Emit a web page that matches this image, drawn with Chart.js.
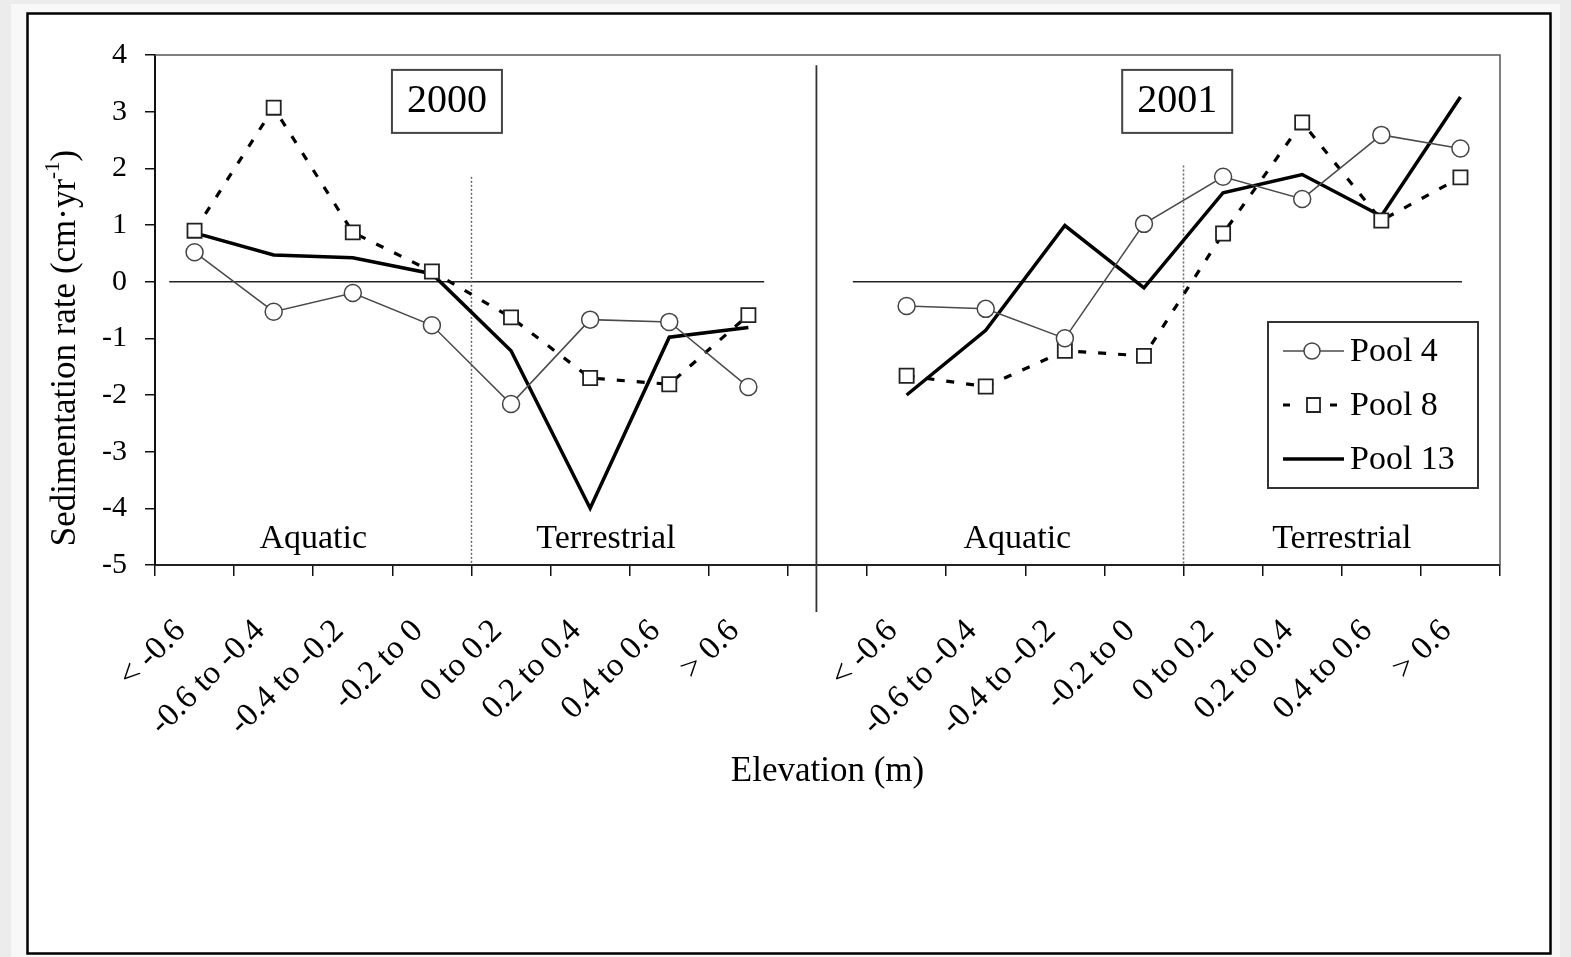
<!DOCTYPE html>
<html>
<head>
<meta charset="utf-8">
<script src="https://cdn.jsdelivr.net/npm/chart.js@4.4.1/dist/chart.umd.min.js"></script>
<style>
  html, body { margin: 0; padding: 0; background: #ececec; }
</style>
</head>
<body>
<canvas id="myChart" width="1571" height="957"></canvas>
<script>
// categories and values
const elevationClasses = ["< -0.6", "-0.6 to -0.4", "-0.4 to -0.2", "-0.2 to 0", "0 to 0.2", "0.2 to 0.4", "0.4 to 0.6", "> 0.6"];
const years = ["2000", "2001"];
const zoneNames = ["Aquatic", "Terrestrial"];
const yTicks = [-5, -4, -3, -2, -1, 0, 1, 2, 3, 4];

const pool4_2000 = [0.52, -0.53, -0.2, -0.77, -2.16, -0.67, -0.71, -1.86];
const pool4_2001 = [-0.43, -0.48, -1.0, 1.02, 1.85, 1.46, 2.59, 2.35];
const pool8_2000 = [0.9, 3.07, 0.87, 0.18, -0.63, -1.7, -1.81, -0.59];
const pool8_2001 = [-1.66, -1.85, -1.22, -1.31, 0.85, 2.81, 1.08, 1.84];
const pool13_2000 = [0.86, 0.47, 0.42, 0.14, -1.22, -4.0, -0.98, -0.81];
const pool13_2001 = [-2.0, -0.86, 0.99, -0.11, 1.57, 1.89, 1.16, 3.26];

const serif = "'Liberation Serif', 'Times New Roman', serif";

// both years share one category axis, with an empty slot between them
const xLabels = [...elevationClasses, "", ...elevationClasses];
function joinYears(a, b) {
  return [...a, null, ...b];
}

const framePlugin = {
  id: 'frame',
  beforeDraw(chart) {
    const ctx = chart.ctx;
    ctx.save();
    ctx.fillStyle = '#ececec';
    ctx.fillRect(0, 0, chart.width, chart.height);
    ctx.fillStyle = '#f8f8f8';
    ctx.fillRect(11, 4, chart.width - 22, chart.height - 4);
    ctx.fillStyle = '#ffffff';
    ctx.fillRect(27, 13, 1524, 940);
    ctx.strokeStyle = '#000';
    ctx.lineWidth = 2.5;
    ctx.strokeRect(27.5, 13.5, 1523, 940);
    ctx.restore();
  },
  beforeDatasetsDraw(chart) {
    const ctx = chart.ctx;
    const x = chart.scales.x;
    const y = chart.scales.y;
    const area = chart.chartArea;
    ctx.save();
    // top and right frame of the plot
    ctx.strokeStyle = '#555';
    ctx.lineWidth = 1.5;
    ctx.beginPath();
    ctx.moveTo(area.left, area.top);
    ctx.lineTo(area.right, area.top);
    ctx.lineTo(area.right, area.bottom);
    ctx.stroke();

    // zero lines for each year
    ctx.strokeStyle = '#222';
    ctx.lineWidth = 1.5;
    [[-0.32, 7.2], [8.32, 16.02]].forEach(([a, b]) => {
      ctx.beginPath();
      ctx.moveTo(x.getPixelForValue(a), y.getPixelForValue(0));
      ctx.lineTo(x.getPixelForValue(b), y.getPixelForValue(0));
      ctx.stroke();
    });

    // year divider
    ctx.strokeStyle = '#333';
    ctx.lineWidth = 1.8;
    ctx.beginPath();
    ctx.moveTo(x.getPixelForValue(7.86), y.getPixelForValue(3.82));
    ctx.lineTo(x.getPixelForValue(7.86), y.getPixelForValue(-5.83));
    ctx.stroke();

    // aquatic / terrestrial split
    ctx.strokeStyle = '#666';
    ctx.lineWidth = 1.5;
    ctx.setLineDash([2, 2]);
    [[3.5, 1.85], [12.5, 2.05]].forEach(([i, top]) => {
      ctx.beginPath();
      ctx.moveTo(x.getPixelForValue(i), y.getPixelForValue(top));
      ctx.lineTo(x.getPixelForValue(i), y.getPixelForValue(-5));
      ctx.stroke();
    });
    ctx.restore();
  },
  afterDatasetsDraw(chart) {
    const ctx = chart.ctx;
    const x = chart.scales.x;
    const y = chart.scales.y;
    const area = chart.chartArea;
    ctx.save();
    ctx.fillStyle = '#000';
    ctx.textAlign = 'center';
    ctx.textBaseline = 'middle';

    // year boxes
    [[3.19, years[0]], [12.42, years[1]]].forEach(([i, label]) => {
      const cx = x.getPixelForValue(i);
      const cy = y.getPixelForValue(3.19);
      ctx.fillStyle = '#fff';
      ctx.fillRect(cx - 55, cy - 31, 110, 63);
      ctx.strokeStyle = '#444';
      ctx.lineWidth = 2;
      ctx.strokeRect(cx - 55, cy - 31, 110, 63);
      ctx.fillStyle = '#000';
      ctx.font = `40px ${serif}`;
      ctx.fillText(label, cx, cy + 1);
    });

    // zone labels
    ctx.font = `34px ${serif}`;
    [[1.5, 0], [5.2, 1], [10.4, 0], [14.5, 1]].forEach(([i, z]) => {
      ctx.fillText(zoneNames[z], x.getPixelForValue(i), y.getPixelForValue(-4.55));
    });

    // legend
    const lx = area.right - 232;
    const ly = area.top + 267;
    ctx.strokeStyle = '#333';
    ctx.lineWidth = 2;
    ctx.strokeRect(lx, ly, 210, 166);
    ctx.textAlign = 'left';
    ctx.font = `34px ${serif}`;
    chart.data.datasets.forEach((ds, k) => {
      const rowY = ly + 29 + k * 54;
      ctx.save();
      ctx.strokeStyle = ds.borderColor;
      ctx.lineWidth = ds.borderWidth;
      ctx.beginPath();
      if (ds.borderDash) {
        ctx.moveTo(lx + 15, rowY);
        ctx.lineTo(lx + 22, rowY);
        ctx.moveTo(lx + 62, rowY);
        ctx.lineTo(lx + 69, rowY);
      } else {
        ctx.moveTo(lx + 15, rowY);
        ctx.lineTo(lx + 76, rowY);
      }
      ctx.stroke();
      ctx.restore();
      if (ds.pointRadius > 0) {
        ctx.save();
        ctx.fillStyle = '#fff';
        ctx.strokeStyle = ds.pointBorderColor;
        ctx.lineWidth = ds.pointBorderWidth;
        ctx.beginPath();
        if (ds.pointStyle === 'circle') {
          ctx.arc(lx + 44, rowY, 8, 0, Math.PI * 2);
        } else {
          ctx.rect(lx + 39, rowY - 7, 13, 14);
        }
        ctx.fill();
        ctx.stroke();
        ctx.restore();
      }
      ctx.fillStyle = '#000';
      ctx.fillText(ds.label, lx + 82, rowY + 1);
    });

    // axis titles
    ctx.textAlign = 'center';
    ctx.font = `35px ${serif}`;
    ctx.fillText('Elevation (m)', (area.left + area.right) / 2, area.bottom + 207);

    ctx.translate(66, area.top + 293);
    ctx.rotate(-Math.PI / 2);
    const main = 'Sedimentation rate (cm\u00b7yr';
    ctx.font = `35px ${serif}`;
    const w1 = ctx.measureText(main).width;
    const w3 = ctx.measureText(')').width;
    ctx.font = `21px ${serif}`;
    const w2 = ctx.measureText('-1').width;
    let tx = -(w1 + w2 + w3) / 2;
    ctx.textAlign = 'left';
    ctx.font = `35px ${serif}`;
    ctx.fillText(main, tx, 0);
    tx += w1;
    ctx.font = `21px ${serif}`;
    ctx.fillText('-1', tx, -13);
    tx += w2;
    ctx.font = `35px ${serif}`;
    ctx.fillText(')', tx, 0);
    ctx.restore();
  }
};

const ctx = document.getElementById("myChart").getContext("2d");
new Chart(ctx, {
  type: 'line',
  data: {
    labels: xLabels,
    datasets: [
      {
        label: 'Pool 4',
        data: joinYears(pool4_2000, pool4_2001),
        borderColor: '#4a4a4a',
        borderWidth: 1.5,
        pointStyle: 'circle',
        pointRadius: 8.5,
        pointBorderWidth: 1.5,
        pointBorderColor: '#444',
        pointBackgroundColor: '#fff',
        tension: 0
      },
      {
        label: 'Pool 8',
        data: joinYears(pool8_2000, pool8_2001),
        borderColor: '#000',
        borderWidth: 3.2,
        borderDash: [8, 12],
        pointStyle: 'rect',
        pointRadius: 10,
        pointBorderWidth: 1.8,
        pointBorderColor: '#222',
        pointBackgroundColor: '#fff',
        tension: 0
      },
      {
        label: 'Pool 13',
        data: joinYears(pool13_2000, pool13_2001),
        borderColor: '#000',
        borderWidth: 3.5,
        pointRadius: 0,
        tension: 0
      }
    ]
  },
  options: {
    responsive: false,
    animation: false,
    devicePixelRatio: 1,
    spanGaps: false,
    layout: { padding: { left: 30, top: 55, right: 71, bottom: 0 } },
    plugins: {
      legend: { display: false },
      tooltip: { enabled: false }
    },
    scales: {
      x: {
        type: 'category',
        offset: true,
        grid: {
          display: true,
          offset: true,
          drawOnChartArea: false,
          drawTicks: true,
          tickLength: 11,
          color: '#111',
          lineWidth: 1.5
        },
        border: { display: true, color: '#222', width: 2 },
        ticks: {
          autoSkip: false,
          maxRotation: 45,
          minRotation: 45,
          padding: 36,
          labelOffset: -14,
          color: '#000',
          font: { family: serif, size: 33 }
        },
        afterFit(scale) { scale.height = 392; }
      },
      y: {
        min: yTicks[0],
        max: yTicks[yTicks.length - 1],
        afterBuildTicks(scale) { scale.ticks = yTicks.map(v => ({ value: v })); },
        grid: {
          display: true,
          drawOnChartArea: false,
          drawTicks: true,
          tickLength: 10,
          color: '#111',
          lineWidth: 1.5
        },
        border: { display: true, color: '#111', width: 2 },
        ticks: {
          padding: 18,
          color: '#000',
          font: { family: serif, size: 30 }
        },
        afterFit(scale) { scale.width = 125; }
      }
    }
  },
  plugins: [framePlugin]
});
</script>
</body>
</html>
